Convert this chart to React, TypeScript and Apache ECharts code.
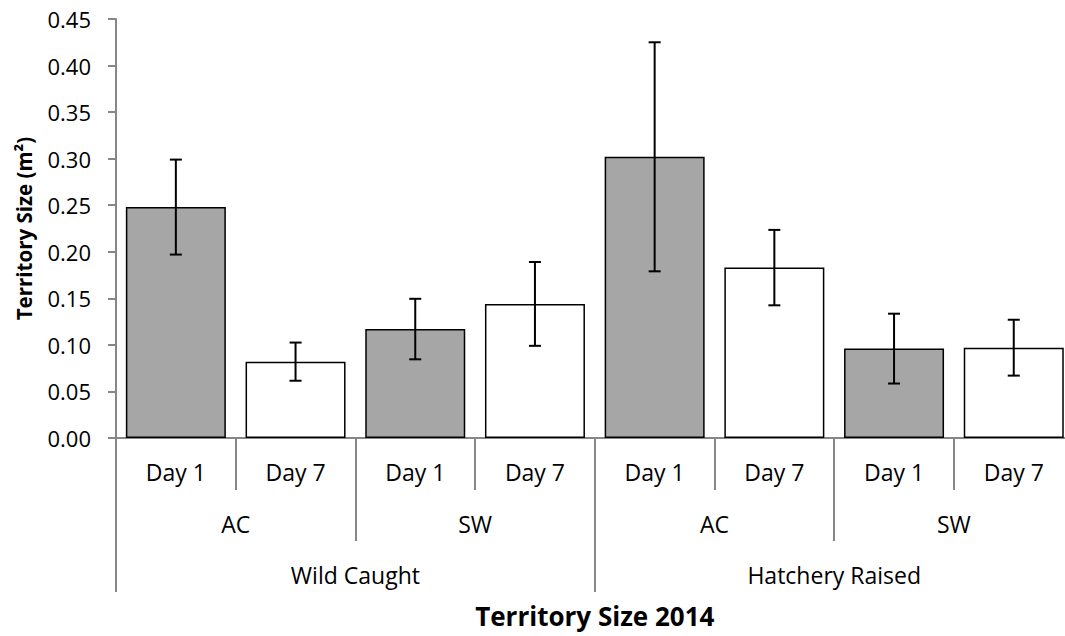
import React, { useEffect, useRef } from "react";
import * as echarts from "echarts";

const dayLabels = ["Day 1", "Day 7", "Day 1", "Day 7", "Day 1", "Day 7", "Day 1", "Day 7"];
const siteLabels = ["AC", "SW", "AC", "SW"];
const originLabels = ["Wild Caught", "Hatchery Raised"];
const means = [0.248, 0.082, 0.117, 0.144, 0.302, 0.183, 0.096, 0.097];
const errors = [0.051, 0.0205, 0.0325, 0.045, 0.123, 0.0405, 0.0375, 0.03];
const yTicks = [0, 0.05, 0.1, 0.15, 0.2, 0.25, 0.3, 0.35, 0.4, 0.45];

const AXIS = "#878787";
const FONT = "'Open Sans', sans-serif";

export default function App() {
  const ref = useRef<HTMLDivElement>(null);
  useEffect(() => {
    if (!ref.current) return;
    const chart = echarts.init(ref.current, null, { renderer: "svg" });
    const errData = means.map((m, i) => [i, m - errors[i], m + errors[i]]);
    const levelAxis = (data: string[], offset: number, tickLen: number, extra: any = {}) => ({
      type: "category",
      data,
      gridIndex: 0,
      position: "bottom",
      offset,
      boundaryGap: true,
      axisLine: { show: offset === 0, lineStyle: { color: AXIS, width: 2 } },
      axisTick: { show: true, inside: false, length: tickLen, interval: 0, lineStyle: { color: AXIS, width: 2 } },
      axisLabel: { interval: 0, margin: 22, color: "#000", fontSize: 23, fontFamily: FONT },
      splitLine: { show: false },
      ...extra,
    });
    chart.setOption({
      animation: false,
      grid: { left: 116, top: 19, width: 957.6, height: 419, containLabel: false },
      xAxis: [
        levelAxis(dayLabels, 0, 52, {
          name: "Territory Size 2014",
          nameLocation: "middle",
          nameGap: 165,
          nameTextStyle: { fontSize: 26, fontWeight: "bold", color: "#000", fontFamily: FONT },
        }),
        levelAxis(siteLabels, 52, 51),
        levelAxis(originLabels, 103, 51),
      ],
      yAxis: {
        type: "value",
        min: 0,
        max: 0.45,
        interval: 0.05,
        axisLine: { show: true, lineStyle: { color: AXIS, width: 2 } },
        axisTick: { show: true, length: 8, lineStyle: { color: AXIS, width: 2 } },
        splitLine: { show: false },
        axisLabel: {
          margin: 25,
          color: "#000",
          fontSize: 22,
          fontFamily: FONT,
          formatter: (v: number) => (yTicks.some((t) => Math.abs(t - v) < 1e-9) ? v.toFixed(2) : ""),
        },
        name: "Territory Size (m²)",
        nameLocation: "middle",
        nameGap: 82,
        nameTextStyle: { fontSize: 20.5, fontWeight: "bold", color: "#000", fontFamily: FONT },
      },
      series: [
        {
          type: "bar",
          xAxisIndex: 0,
          data: means,
          barWidth: 100,
          itemStyle: {
            color: (p: any) => (p.dataIndex % 2 === 0 ? "#a6a6a6" : "#ffffff"),
            borderColor: "#000",
            borderWidth: 1.5,
          },
        },
        {
          type: "custom",
          xAxisIndex: 0,
          data: errData,
          z: 10,
          renderItem: (params: any, api: any) => {
            const x = api.value(0);
            const lo = api.coord([x, api.value(1)]);
            const hi = api.coord([x, api.value(2)]);
            const cap = 6;
            const style = { stroke: "#000", lineWidth: 2 };
            return {
              type: "group",
              children: [
                { type: "line", shape: { x1: lo[0], y1: lo[1], x2: hi[0], y2: hi[1] }, style },
                { type: "line", shape: { x1: lo[0] - cap, y1: lo[1], x2: lo[0] + cap, y2: lo[1] }, style },
                { type: "line", shape: { x1: hi[0] - cap, y1: hi[1], x2: hi[0] + cap, y2: hi[1] }, style },
              ],
            };
          },
        },
      ],
    });
    return () => chart.dispose();
  }, []);
  return (
    <div style={{ width: 1065, height: 636, position: "absolute", left: 0, top: 0, overflow: "hidden" }}>
      <div ref={ref} style={{ width: 1085, height: 636 }} />
    </div>
  );
}
